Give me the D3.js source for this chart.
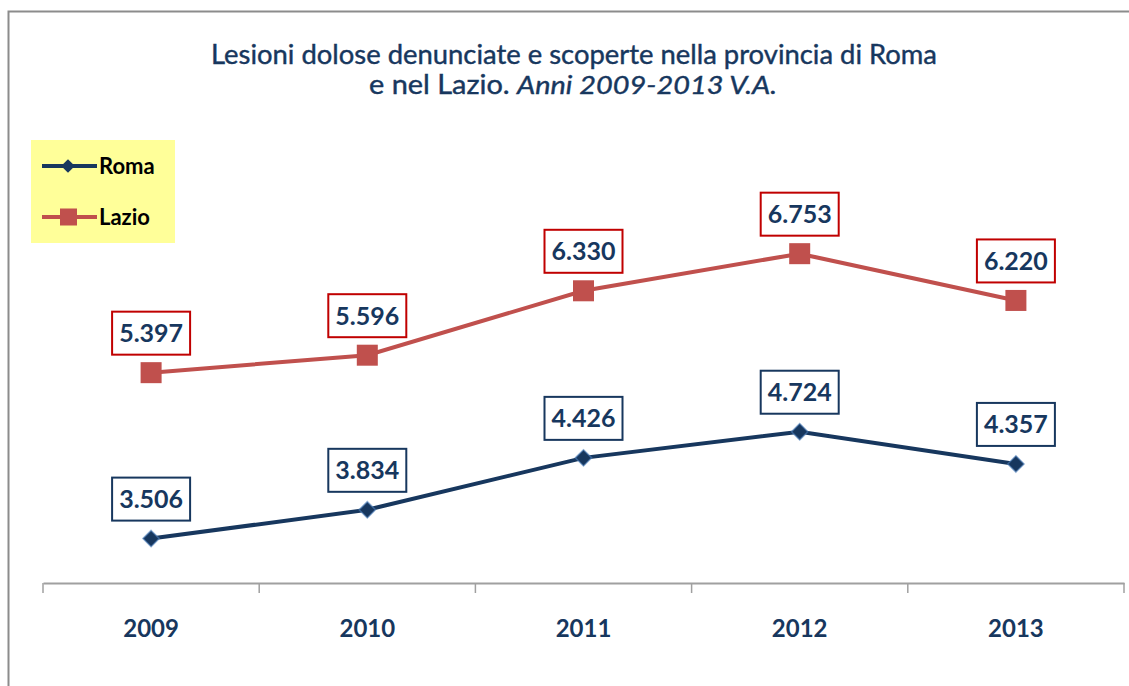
<!DOCTYPE html>
<html>
<head>
<meta charset="utf-8">
<script src="https://cdnjs.cloudflare.com/ajax/libs/d3/7.8.5/d3.min.js"></script>
<style>
  body { margin: 0; background: #fff; }
  text { font-family: Lato, "Open Sans", sans-serif; }
</style>
</head>
<body>
<div id="chart"></div>
<script>
var years = ["2009", "2010", "2011", "2012", "2013"];
var roma = [3506, 3834, 4426, 4724, 4357];
var lazio = [5397, 5596, 6330, 6753, 6220];
var labels = ["3.506", "3.834", "4.426", "4.724", "4.357"];
var labelsLazio = ["5.397", "5.596", "6.330", "6.753", "6.220"];
var seriesNames = ["Roma", "Lazio"];

var width = 1129, height = 686;
var navy = "#17375E", red = "#C0504D";

var svg = d3.select("#chart").append("svg")
  .attr("width", width)
  .attr("height", height);

// frame round the chart
svg.append("rect")
  .attr("x", 8.5).attr("y", 11.5)
  .attr("width", 1130).attr("height", 700)
  .attr("fill", "none")
  .attr("stroke", "#8c8c8c")
  .attr("stroke-width", 2);

// title
var title = svg.append("text")
  .attr("x", 574).attr("y", 64)
  .attr("text-anchor", "middle")
  .attr("font-size", "26px")
  .attr("fill", navy)
  .attr("stroke", navy).attr("stroke-width", 0.4)
  .attr("textLength", 726)
  .attr("lengthAdjust", "spacingAndGlyphs")
  .text("Lesioni dolose denunciate e scoperte nella provincia di Roma");
var title2 = svg.append("text")
  .attr("x", 573).attr("y", 94)
  .attr("text-anchor", "middle")
  .attr("font-size", "26px")
  .attr("fill", navy)
  .attr("stroke", navy).attr("stroke-width", 0.4)
  .attr("textLength", 408)
  .attr("lengthAdjust", "spacingAndGlyphs");
title2.append("tspan").text("e nel Lazio. ");
title2.append("tspan").attr("font-style", "italic").text("Anni 2009-2013 V.A.");

var x = d3.scaleBand()
  .domain(years)
  .range([43, 1124]);

var y = d3.scaleLinear()
  .domain([3000, 7000])
  .range([583, 232]);

// x axis
var xAxis = svg.append("g")
  .attr("transform", "translate(0,583)")
  .call(d3.axisBottom(x).tickSize(0).tickPadding(37));
xAxis.select(".domain").attr("stroke", "#a0a0a0").attr("stroke-width", 2);
xAxis.selectAll("text")
  .attr("font-size", "24px")
  .attr("font-weight", "bold")
  .attr("fill", navy)
  .attr("font-family", "Lato, sans-serif");

// tick marks between the categories
var bounds = years.map(function(d) { return x(d); }).concat([x.range()[1]]);
svg.selectAll(".sep").data(bounds).enter().append("line")
  .attr("x1", function(d) { return d; })
  .attr("x2", function(d) { return d; })
  .attr("y1", 583).attr("y2", 593)
  .attr("stroke", "#a0a0a0")
  .attr("stroke-width", 1.5);

var cx = function(i) { return x(years[i]) + x.bandwidth() / 2; };

var line = d3.line()
  .x(function(d, i) { return cx(i); })
  .y(function(d) { return y(d); });

// Lazio line + squares
svg.append("path")
  .datum(lazio)
  .attr("fill", "none")
  .attr("stroke", red)
  .attr("stroke-width", 4)
  .attr("d", line);
svg.selectAll(".sq").data(lazio).enter().append("rect")
  .attr("x", function(d, i) { return cx(i) - 10.5; })
  .attr("y", function(d) { return y(d) - 10.5; })
  .attr("width", 21).attr("height", 21)
  .attr("fill", red);

// Roma line + diamonds
svg.append("path")
  .datum(roma)
  .attr("fill", "none")
  .attr("stroke", navy)
  .attr("stroke-width", 4)
  .attr("d", line);
svg.selectAll(".dia").data(roma).enter().append("path")
  .attr("d", d3.symbol().type(d3.symbolDiamond2).size(170))
  .attr("transform", function(d, i) { return "translate(" + cx(i) + "," + y(d) + ")"; })
  .attr("fill", navy)
  .attr("stroke", "#4F81BD")
  .attr("stroke-opacity", 0.6)
  .attr("stroke-width", 1.5);

// value boxes
function drawLabels(vals, txt, border) {
  var g = svg.append("g");
  var lab = g.selectAll("g").data(vals).enter().append("g")
    .attr("transform", function(d, i) { return "translate(" + cx(i) + "," + (y(d) - 39.5) + ")"; });
  lab.append("rect")
    .attr("x", -39).attr("y", -21.5)
    .attr("width", 78).attr("height", 43)
    .attr("fill", "#fff")
    .attr("stroke", border)
    .attr("stroke-width", 2);
  lab.append("text")
    .attr("text-anchor", "middle")
    .attr("dy", "0.36em")
    .attr("font-size", "25px")
    .attr("font-weight", "bold")
    .attr("fill", navy)
    .text(function(d, i) { return txt[i]; });
}
drawLabels(lazio, labelsLazio, "#C00000");
drawLabels(roma, labels, navy);

// legend
svg.append("rect")
  .attr("x", 31).attr("y", 140)
  .attr("width", 144).attr("height", 103)
  .attr("fill", "#FFFF99");
var leg = svg.selectAll(".leg").data(seriesNames).enter().append("g")
  .attr("transform", function(d, i) { return "translate(0," + (166 + i * 51) + ")"; });
leg.append("line")
  .attr("x1", 42).attr("x2", 97)
  .attr("stroke", function(d, i) { return i == 0 ? navy : red; })
  .attr("stroke-width", 4);
leg.filter(function(d, i) { return i == 0; }).append("path")
  .attr("d", d3.symbol().type(d3.symbolDiamond2).size(120))
  .attr("transform", "translate(68,0)")
  .attr("fill", navy);
leg.filter(function(d, i) { return i == 1; }).append("rect")
  .attr("x", 60).attr("y", -8.5).attr("width", 17).attr("height", 17)
  .attr("fill", red);
leg.append("text")
  .attr("x", 99).attr("y", 8)
  .attr("font-size", "22px")
  .attr("font-weight", "bold")
  .attr("fill", "#000")
  .text(function(d) { return d; });
</script>
</body>
</html>
